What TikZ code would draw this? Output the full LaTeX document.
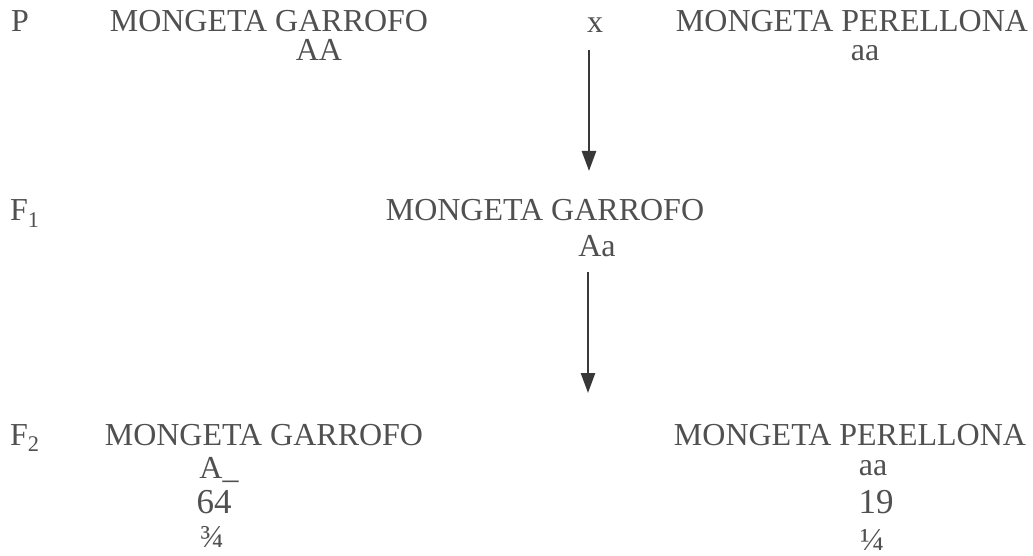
\documentclass[tikz,border=0pt]{standalone}
\usepackage{fontspec}
\setmainfont{Liberation Serif}
\usetikzlibrary{arrows.meta}
\definecolor{txt}{HTML}{505050}
\definecolor{arr}{HTML}{383838}
\begin{document}
\begin{tikzpicture}[x=1pt,y=-1pt,
  lbl/.style={anchor=base,inner sep=0pt,text=txt,font=\fontsize{32}{34}\selectfont},
  num/.style={lbl,font=\fontsize{35}{37}\selectfont},
  gen/.style={anchor=base west,inner sep=0pt,text=txt,font=\fontsize{32}{34}\selectfont},
  cross/.style={-{Triangle[width=14pt,length=20pt]},line width=2.6pt,draw=arr}]
\useasboundingbox (0,0) rectangle (1033,556);
% P row
\node[gen] (p) at (11,32) {P};
\node[lbl] (pg) at (269,32) {MONGETA GARROFO};
\node[lbl] (px) at (595,33) {x};
\node[lbl] (pp) at (852,32) {MONGETA PERELLONA};
\node[lbl] (pAA) at (319,61) {AA};
\node[lbl] (paa) at (865,61) {aa};
% F1 row
\node[gen] (f1) at (10,221) {F\textsubscript{1}};
\node[lbl] (f1g) at (545,221) {MONGETA GARROFO};
\node[lbl] (f1Aa) at (597,256) {Aa};
% F2 row
\node[gen] (f2) at (10,445) {F\textsubscript{2}};
\node[lbl] (f2g) at (264,445) {MONGETA GARROFO};
\node[lbl] (f2p) at (850,445) {MONGETA PERELLONA};
\node[lbl] (f2A) at (219,478) {A\_};
\node[num] (f2n1) at (214,513) {64};
\node[lbl] (f2r1) at (212,547) {¾};
\node[lbl] (f2aa) at (873,475) {aa};
\node[num] (f2n2) at (876,513) {19};
\node[lbl] (f2r2) at (872,550) {¼};
% arrows
\coordinate (a1s) at (589,50);
\coordinate (a1e) at (589,171);
\coordinate (a2s) at (588,272);
\coordinate (a2e) at (588,393);
\draw[cross] (a1s) -- (a1e);
\draw[cross] (a2s) -- (a2e);
\end{tikzpicture}
\end{document}
